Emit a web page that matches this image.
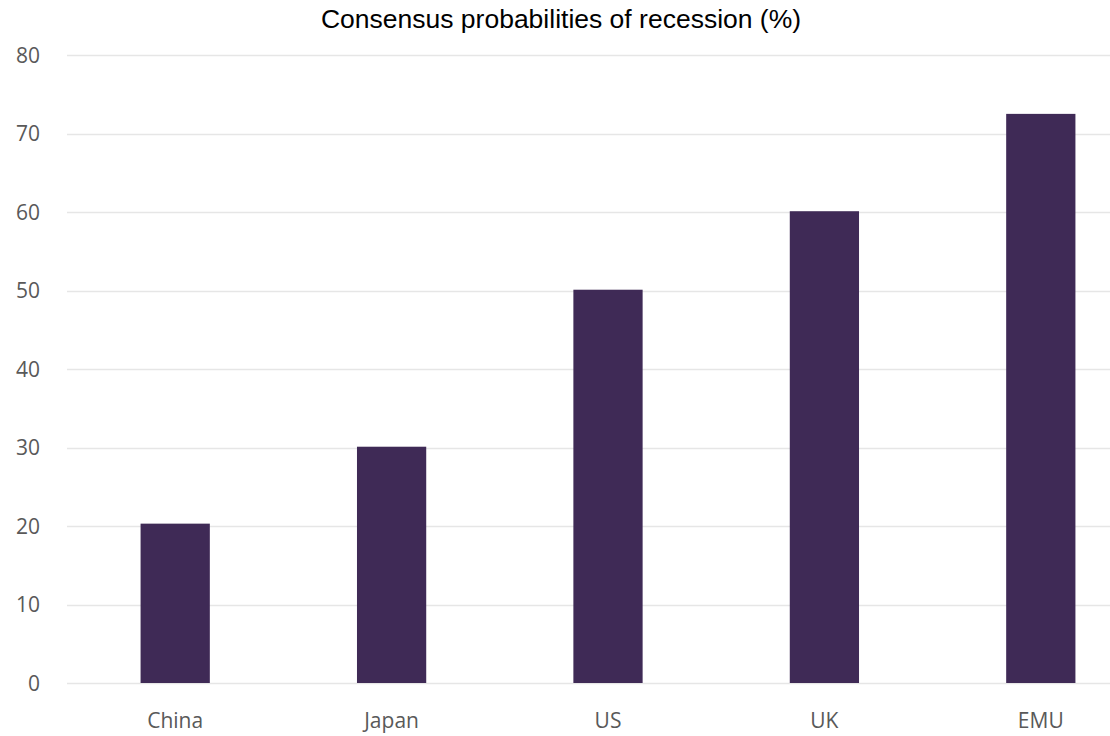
<!DOCTYPE html>
<html>
<head>
<meta charset="utf-8">
<script src="https://cdn.jsdelivr.net/npm/d3@7"></script>
<style>
  body { margin: 0; background: #fff; }
  #chart { width: 1110px; height: 736px; }
</style>
</head>
<body>
<div id="chart"></div>
<script>
const categories = ["China", "Japan", "US", "UK", "EMU"];
const values = [20.3, 30.1, 50.1, 60.1, 72.5];
const yTicks = [0, 10, 20, 30, 40, 50, 60, 70, 80];
const title = "Consensus probabilities of recession (%)";

const theme = {
  bar: "#3f2a56",
  grid: "#e6e6e6",
  tick: "#595959",
};

const width = 1110;
const height = 736;
const margin = { left: 67, right: -39, top: 55, bottom: 53 };

const svg = d3
  .select("#chart")
  .append("svg")
  .attr("width", width)
  .attr("height", height);

const xScale = d3
  .scaleBand()
  .domain(categories)
  .range([margin.left, width - margin.right])
  .paddingInner(0.68)
  .paddingOuter(0.34);

const yScale = d3
  .scaleLinear()
  .domain([0, 80])
  .range([height - margin.bottom, margin.top]);

// gridlines
svg
  .append("g")
  .selectAll("line")
  .data(yTicks)
  .join("line")
  .attr("x1", margin.left)
  .attr("x2", width)
  .attr("y1", (d) => Math.round(yScale(d)) + 0.5)
  .attr("y2", (d) => Math.round(yScale(d)) + 0.5)
  .attr("stroke", theme.grid)
  .attr("stroke-width", 1.5);

// y labels
svg
  .append("g")
  .selectAll("text")
  .data(yTicks)
  .join("text")
  .attr("x", 40)
  .attr("y", (d) => yScale(d))
  .attr("dy", "0.36em")
  .attr("text-anchor", "end")
  .attr("font-family", "'Open Sans', sans-serif")
  .attr("font-size", 21)
  .attr("fill", theme.tick)
  .text((d) => d);

// bars
svg
  .append("g")
  .selectAll("rect")
  .data(values)
  .join("rect")
  .attr("x", (d, i) => xScale(categories[i]))
  .attr("width", xScale.bandwidth())
  .attr("y", (d) => yScale(d))
  .attr("height", (d) => yScale(0) - yScale(d))
  .attr("fill", theme.bar);

// x labels
svg
  .append("g")
  .selectAll("text")
  .data(categories)
  .join("text")
  .attr("x", (d) => xScale(d) + xScale.bandwidth() / 2)
  .attr("y", 728)
  .attr("text-anchor", "middle")
  .attr("font-family", "'Open Sans', sans-serif")
  .attr("font-size", 21)
  .attr("fill", theme.tick)
  .text((d) => d);

// title
svg
  .append("text")
  .attr("x", 561)
  .attr("y", 28)
  .attr("text-anchor", "middle")
  .attr("font-family", "'Liberation Sans', Arial, sans-serif")
  .attr("font-size", 26.5)
  .attr("fill", "#000")
  .text(title);
</script>
</body>
</html>
